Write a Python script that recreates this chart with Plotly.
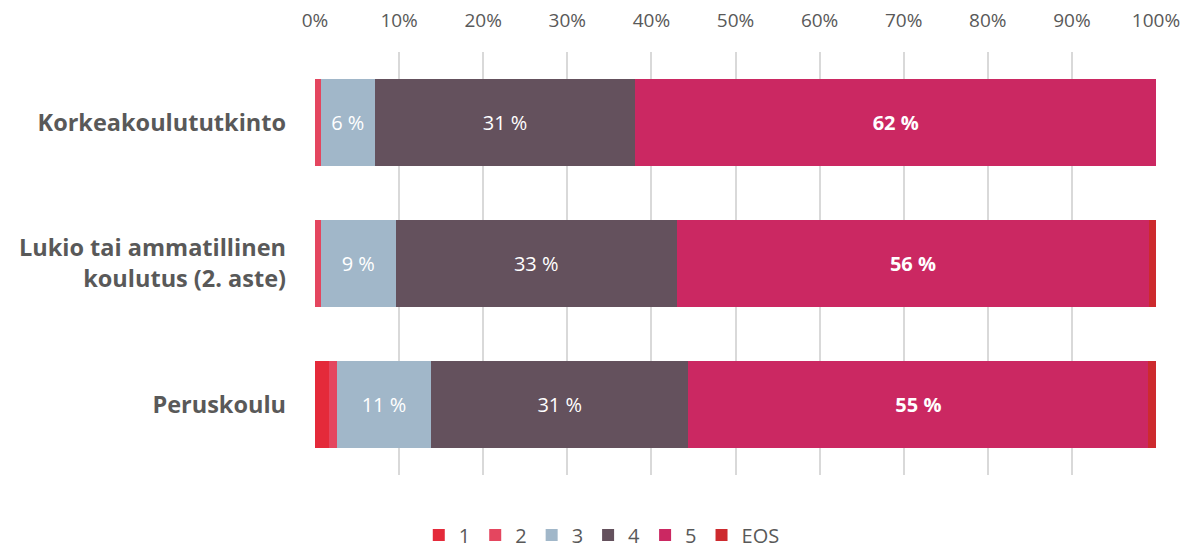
import plotly.graph_objects as go

categories = ["Korkeakoulututkinto", "Lukio tai ammatillinen<br>koulutus (2. aste)", "Peruskoulu"]
series_names = ["1", "2", "3", "4", "5", "EOS"]
s1 = [0.0, 0.0, 1.7]
s2 = [0.7, 0.7, 0.9]
s3 = [6.4, 8.9, 11.2]
s4 = [31.0, 33.4, 30.6]
s5 = [61.9, 56.2, 54.7]
seos = [0.0, 0.8, 0.9]
label_series = ["3", "4", "5"]
tick_vals = [0, 10, 20, 30, 40, 50, 60, 70, 80, 90, 100]

colors = {"1": "#E42A3A", "2": "#E4465F", "3": "#A1B7C9", "4": "#64515D", "5": "#CB2862", "EOS": "#CD2A2E"}
data = {"1": s1, "2": s2, "3": s3, "4": s4, "5": s5, "EOS": seos}

fig = go.Figure()
for name in series_names:
    vals = data[name]
    if name in label_series:
        if name == "5":
            text = [f"<b>{round(v)} %</b>" for v in vals]
        else:
            text = [f"{round(v)} %" for v in vals]
    else:
        text = None
    fig.add_trace(go.Bar(
        y=categories, x=vals, name=name, orientation="h",
        marker=dict(color=colors[name], line=dict(width=0)),
        text=text, textposition="inside" if text else "none",
        insidetextanchor="middle",
        textfont=dict(color="white", size=20, family="Open Sans"),
        hoverinfo="x+name",
    ))

fig.update_layout(
    barmode="stack",
    bargap=0.376,
    width=1186, height=549,
    margin=dict(l=315, r=30, t=52, b=74, autoexpand=False),
    plot_bgcolor="white", paper_bgcolor="white",
    font=dict(family="Open Sans", color="#595959"),
    legend=dict(orientation="h", x=0.341, xanchor="center", y=-0.142, yanchor="middle",
                font=dict(size=20, color="#595959"), traceorder="normal",
                itemwidth=30),
    xaxis=dict(side="top", range=[0, 100], tickvals=tick_vals,
               ticktext=[f"{v}%" for v in tick_vals],
               showgrid=True, gridcolor="#D9D9D9", gridwidth=1.5,
               zeroline=False, showline=False, ticks="", automargin=False,
               ticklabelstandoff=20,
               tickfont=dict(size=19, color="#595959")),
    yaxis=dict(autorange="reversed", ticks="", showline=False, automargin=False,
               tickfont=dict(size=23.5, color="#595959", family="Open Sans"),
               ticklabelstandoff=28),
)
fig.update_yaxes(tickprefix="<b>", ticksuffix="</b>")

fig.write_html("out.html", config={"displayModeBar": False},
               post_script="document.body.style.margin='0';document.body.style.overflow='hidden';")
